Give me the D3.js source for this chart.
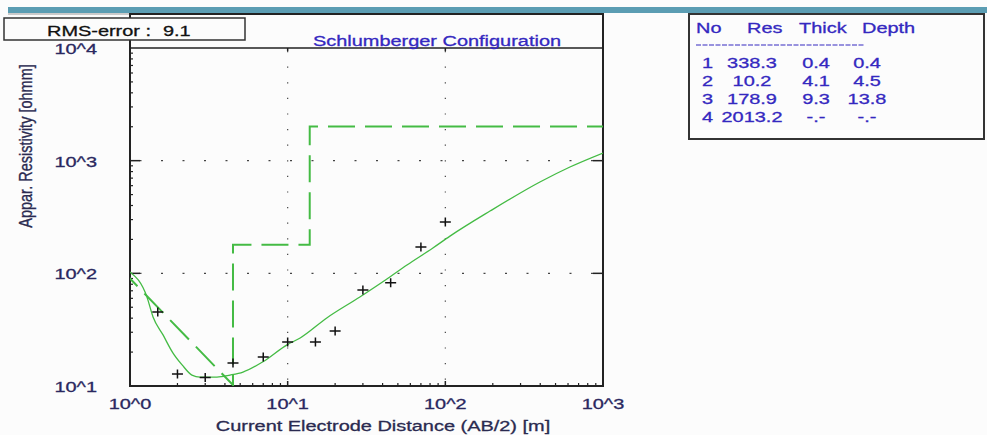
<!DOCTYPE html>
<html>
<head>
<meta charset="utf-8">
<script src="https://cdn.jsdelivr.net/npm/d3@7"></script>
<style>
  body { margin: 0; background: #fcfcfc; }
  text { font-family: "Liberation Sans", Arial, sans-serif; }
</style>
</head>
<body>
<svg id="chart" width="987" height="435"></svg>
<script>
// sounding data (AB/2 in m, apparent resistivity in ohmm)
var obsAB  = [1.5, 2, 3, 4.5, 7, 10, 15, 20, 30, 45, 70, 100];
var obsRho = [45.4, 12.8, 11.9, 16.0, 18.1, 24.6, 24.6, 30.8, 71.3, 82.6, 171, 286];

// calculated curve
var fitAB  = [1, 1.28, 1.4, 1.62, 1.87, 2.14, 2.47, 2.78, 3.56, 4.31, 5.21, 6.97, 9.9, 12, 17.7, 28.7, 42.6, 57.1, 83.4, 107, 192, 398, 617, 1000];
var fitRho = [103, 61.8, 41, 28.4, 19.7, 15.4, 12.5, 12.0, 12.0, 12.5, 13.3, 16.4, 23.2, 26.7, 40.2, 61.7, 89.1, 118.6, 168, 214, 357, 647, 879, 1170];

// layer model
var layerNo    = ["1", "2", "3", "4"];
var layerRes   = [338.3, 10.2, 178.9, 2013.2];
var layerThick = [0.4, 4.1, 9.3, null];
var layerDepth = [0.4, 4.5, 13.8, null];

var xTicks = [1, 10, 100, 1000];
var xTickLabels = ["10^0", "10^1", "10^2", "10^3"];
var yTicks = [10, 100, 1000, 10000];
var yTickLabels = ["10^1", "10^2", "10^3", "10^4"];

var rmsError = 9.1;

var green = "#44bb44";
var navy = "#2a2860";
var blue = "#3428c0";
var SX = 1.33; // the screenshot is stretched sideways

var svg = d3.select("#chart");

var x = d3.scaleLog().domain([1, 1000]).range([130, 603]);
var y = d3.scaleLog().domain([10, 10000]).range([386, 48]);

function label(g, str, px, py, anchor, color, size) {
  return g.append("text")
    .attr("transform", "translate(" + px + "," + py + ") scale(" + SX + ",1)")
    .attr("text-anchor", anchor || "start")
    .attr("font-size", size || 15)
    .attr("fill", color || navy)
    .attr("stroke", color || navy)
    .attr("stroke-width", 0.3)
    .text(str);
}

// top band
svg.append("rect").attr("x", 8).attr("y", 7).attr("width", 979).attr("height", 6).attr("fill", "#5b9db3");
svg.append("line").attr("x1", 8).attr("x2", 130).attr("y1", 14).attr("y2", 14)
  .attr("stroke", "#999").attr("stroke-width", 1);

// frame
svg.append("path")
  .attr("d", "M130,386 V14 H603 V386 Z")
  .attr("fill", "none").attr("stroke", "#222").attr("stroke-width", 2);
svg.append("line").attr("x1", 130).attr("x2", 603).attr("y1", 48).attr("y2", 48)
  .attr("stroke", "#222").attr("stroke-width", 1.5);

// dotted grid
var grid = svg.append("g").attr("stroke", "#444");
grid.selectAll(".gx").data(xTicks.slice(1, -1)).enter().append("line")
  .attr("x1", d => x(d)).attr("x2", d => x(d))
  .attr("y1", 48).attr("y2", 386)
  .attr("stroke-width", 1.2)
  .attr("stroke-dasharray", "1.2,14.4")
  .attr("stroke-dashoffset", -3);
grid.selectAll(".gy").data(yTicks.slice(1, -1)).enter().append("line")
  .attr("x1", 130).attr("x2", 603)
  .attr("y1", d => y(d)).attr("y2", d => y(d))
  .attr("stroke-width", 1.2)
  .attr("stroke-dasharray", "2,19.5")
  .attr("stroke-dashoffset", -9.5);

// ticks
var minorY = [], minorX = [];
yTicks.slice(0, -1).forEach(function(t) { for (var k = 2; k < 10; k++) minorY.push(t * k); });
xTicks.slice(0, -1).forEach(function(t) { for (var k = 2; k < 10; k++) minorX.push(t * k); });

var ticks = svg.append("g").attr("stroke", "#222");
ticks.selectAll(".my").data(minorY).enter().append("line")
  .attr("x1", 130).attr("x2", 133).attr("y1", d => y(d)).attr("y2", d => y(d)).attr("stroke-width", 1.2);
ticks.selectAll(".My").data(yTicks.slice(1, -1)).enter().append("line")
  .attr("x1", 130).attr("x2", 140).attr("y1", d => y(d)).attr("y2", d => y(d)).attr("stroke-width", 1.5);
ticks.selectAll(".Myr").data(yTicks.slice(1, -1)).enter().append("line")
  .attr("x1", 593).attr("x2", 603).attr("y1", d => y(d)).attr("y2", d => y(d)).attr("stroke-width", 1.5);
ticks.selectAll(".mx").data(minorX).enter().append("line")
  .attr("x1", d => x(d)).attr("x2", d => x(d)).attr("y1", 386).attr("y2", 383).attr("stroke-width", 1.2);
ticks.selectAll(".Mx").data(xTicks.slice(1, -1)).enter().append("line")
  .attr("x1", d => x(d)).attr("x2", d => x(d)).attr("y1", 386).attr("y2", 381).attr("stroke-width", 1.5);
ticks.selectAll(".Mxt").data(xTicks.slice(1, -1)).enter().append("line")
  .attr("x1", d => x(d)).attr("x2", d => x(d)).attr("y1", 48).attr("y2", 51).attr("stroke-width", 1.5);

// tick labels
xTicks.forEach(function(t, i) { label(svg, xTickLabels[i], x(t), 409, "middle"); });
yTicks.forEach(function(t, i) { label(svg, yTickLabels[i], 97, Math.max(y(t) + 6, 52), "end"); });

// axis titles
label(svg, "Current Electrode Distance (AB/2) [m]", 383, 431, "middle", "#2a2a50");
svg.append("text")
  .attr("transform", "translate(32,146) scale(" + SX + ",1) rotate(-90)")
  .attr("text-anchor", "middle").attr("font-size", 14.5)
  .attr("fill", "#2a2a50").attr("stroke", "#2a2a50").attr("stroke-width", 0.25)
  .text("Appar. Resistivity [ohmm]");

// title
label(svg, "Schlumberger Configuration", 437, 46, "middle", blue);

// curves, clipped to plot area
svg.append("clipPath").attr("id", "plotclip")
  .append("rect").attr("x", 130).attr("y", 48).attr("width", 473).attr("height", 338);
var plot = svg.append("g").attr("clip-path", "url(#plotclip)");

var modelPts = [[layerDepth[0], layerRes[0]]];
for (var i = 1; i < layerRes.length - 1; i++) {
  modelPts.push([layerDepth[i], layerRes[i]]);
  modelPts.push([layerDepth[i], layerRes[i + 1]]);
}
modelPts.push([1000, layerRes[layerRes.length - 1]]);

var line = d3.line().x(d => x(d[0])).y(d => y(d[1]));
plot.append("path").datum(modelPts)
  .attr("d", line)
  .attr("fill", "none").attr("stroke", green).attr("stroke-width", 2)
  .attr("stroke-dasharray", "27,10");

var fitPts = fitAB.map((d, i) => [d, fitRho[i]]);
plot.append("path").datum(fitPts)
  .attr("d", d3.line().x(d => x(d[0])).y(d => y(d[1])).curve(d3.curveMonotoneX))
  .attr("fill", "none").attr("stroke", green).attr("stroke-width", 1.3);

// observed points
plot.selectAll(".obs").data(obsAB).enter().append("path")
  .attr("d", function(d, i) {
    var px = x(d), py = y(obsRho[i]);
    return "M" + (px - 5.5) + "," + py + "H" + (px + 5.5) + "M" + px + "," + (py - 4.5) + "V" + (py + 4.5);
  })
  .attr("stroke", "#111").attr("stroke-width", 1.5).attr("fill", "none");

// RMS box
svg.append("rect").attr("x", 4).attr("y", 18).attr("width", 241).attr("height", 22)
  .attr("fill", "#fcfcfc").attr("stroke", "#333").attr("stroke-width", 1.5);
label(svg, "RMS-error :", 47, 36, "start", "#111");
label(svg, d3.format(".1f")(rmsError), 163, 36, "start", "#111");

// layer table
svg.append("rect").attr("x", 689).attr("y", 14).attr("width", 295).attr("height", 125)
  .attr("fill", "#fcfcfc").attr("stroke", "#333").attr("stroke-width", 2);
var tbl = svg.append("g");
label(tbl, "No", 696, 33, "start", blue);
label(tbl, "Res", 747, 33, "start", blue);
label(tbl, "Thick", 799, 33, "start", blue);
label(tbl, "Depth", 862, 33, "start", blue);
tbl.append("line").attr("x1", 696).attr("x2", 865).attr("y1", 45).attr("y2", 45)
  .attr("stroke", blue).attr("stroke-width", 1.2).attr("stroke-dasharray", "5,1.5");

function fmt(v) { return v == null ? "-.-" : d3.format(".1f")(v); }
layerNo.forEach(function(n, i) {
  var by = 68 + i * 18;
  label(tbl, n, 702, by, "start", blue);
  label(tbl, fmt(layerRes[i]), 752, by, "middle", blue);
  label(tbl, fmt(layerThick[i]), 816, by, "middle", blue);
  label(tbl, fmt(layerDepth[i]), 867, by, "middle", blue);
});
</script>
</body>
</html>
